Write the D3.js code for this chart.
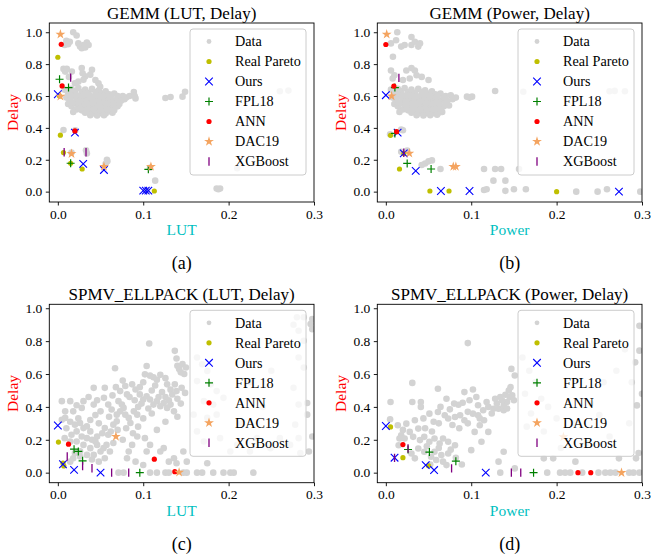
<!DOCTYPE html>
<html>
<head>
<meta charset="utf-8">
<script src="https://cdn.jsdelivr.net/npm/d3@7"></script>
<style>
html,body{margin:0;padding:0;background:#fff;}
svg{display:block;}
text{font-family:"Liberation Serif","Times New Roman",serif;}
</style>
</head>
<body>
<svg id="chart" width="651" height="560"></svg>
<script>
// ---------------- DATA ----------------
const seriesNames = ["Data","Real Pareto","Ours","FPL18","ANN","DAC19","XGBoost"];
const panelTitles = ["GEMM (LUT, Delay)","GEMM (Power, Delay)","SPMV_ELLPACK (LUT, Delay)","SPMV_ELLPACK (Power, Delay)"];
const panelXLabels = ["LUT","Power","LUT","Power"];
const panelYLabels = ["Delay","Delay","Delay","Delay"];
const panelCaptions = ["(a)","(b)","(c)","(d)"];
const xTicks = [0.0,0.1,0.2,0.3];
const yTicks = [0.0,0.2,0.4,0.6,0.8,1.0];

// (a) GEMM LUT vs Delay
const gemmLutData = [
 [0.018,1.0],[0.022,0.98],[0.010,0.947],[0.014,0.94],[0.008,0.92],[0.026,0.91],[0.030,0.92],[0.034,0.935],[0.028,0.90],[0.036,0.92],[0.032,0.905],[0.024,0.93],[0.012,0.925],
 [0.0066,0.77],[0.0105,0.77],[0.0086,0.753],[0.028,0.775],[0.029,0.743],[0.040,0.765],[0.038,0.734],[0.032,0.723],[0.030,0.702],[0.024,0.69],[0.020,0.68],[0.0476,0.68],[0.0496,0.658],[0.0164,0.753],[0.013,0.72],[0.044,0.70],
 [0.008,0.64],[0.012,0.62],[0.016,0.645],[0.020,0.63],[0.024,0.65],[0.028,0.625],[0.032,0.64],[0.036,0.62],[0.040,0.645],[0.044,0.625],[0.048,0.635],[0.052,0.615],[0.056,0.63],[0.060,0.61],[0.066,0.615],[0.070,0.60],[0.076,0.60],[0.080,0.59],
 [0.010,0.59],[0.014,0.575],[0.018,0.60],[0.022,0.58],[0.026,0.595],[0.030,0.57],[0.034,0.59],[0.038,0.575],[0.042,0.595],[0.046,0.57],[0.050,0.585],[0.054,0.565],[0.058,0.58],[0.062,0.565],[0.068,0.575],[0.074,0.57],[0.078,0.58],
 [0.012,0.55],[0.016,0.535],[0.020,0.555],[0.024,0.53],[0.028,0.55],[0.032,0.53],[0.036,0.545],[0.040,0.525],[0.044,0.545],[0.048,0.52],[0.052,0.54],[0.056,0.52],[0.060,0.54],[0.064,0.525],[0.070,0.535],
 [0.028,0.51],[0.032,0.495],[0.036,0.505],[0.040,0.49],[0.044,0.505],[0.048,0.49],[0.052,0.50],[0.056,0.49],[0.060,0.505],[0.064,0.495],[0.022,0.515],[0.018,0.50],
 [0.014,0.61],[0.022,0.605],[0.030,0.605],[0.038,0.60],[0.046,0.605],[0.054,0.60],[0.062,0.595],[0.017,0.56],[0.025,0.565],[0.033,0.555],[0.041,0.56],[0.049,0.555],[0.057,0.55],[0.065,0.55],[0.026,0.52],[0.034,0.515],[0.042,0.515],[0.050,0.51],[0.058,0.515],[0.066,0.51],[0.038,0.48],[0.046,0.478],[0.054,0.48],[0.072,0.55],[0.084,0.60],
 [0.089,0.625],[0.090,0.60],[0.091,0.585],
 [0.126,0.587],[0.132,0.594],[0.146,0.596],[0.149,0.627],[0.260,0.63],[0.270,0.634],
 [0.0066,0.387],[0.0205,0.385],[0.016,0.245],[0.033,0.26],[0.034,0.24],[0.0575,0.20],[0.058,0.19],[0.056,0.175],
 [0.108,0.15],[0.114,0.069],[0.186,0.02],[0.190,0.02],[0.188,0.015],[0.210,0.147],[0.104,0.005]
];
const gemmLutPareto = [[0.0,0.843],[0.002,0.60],[0.003,0.354],[0.0066,0.245],[0.015,0.178],[0.0285,0.142],[0.113,0.004]];
const gemmLutOurs = [[0.0,0.611],[0.020,0.37],[0.0297,0.174],[0.054,0.136],[0.100,0.006],[0.103,0.006],[0.106,0.006]];
const gemmLutFPL18 = [[0.002,0.705],[0.0125,0.653],[0.015,0.178],[0.106,0.14]];
const gemmLutANN = [[0.004,0.924],[0.005,0.663],[0.020,0.381]];
const gemmLutDAC19 = [[0.003,0.987],[0.003,0.598],[0.016,0.238],[0.054,0.157],[0.109,0.157]];
const gemmLutXGB = [[0.015,0.715],[0.0074,0.247],[0.033,0.247]];

// (b) GEMM Power vs Delay
const gemmPowerData = [
 [0.0134,1.0],[0.0083,0.846],[0.018,0.91],[0.022,0.92],[0.030,0.92],[0.034,0.94],[0.038,0.91],[0.040,0.93],[0.030,0.97],[0.006,0.93],[0.012,0.95],
 [0.006,0.76],[0.010,0.73],[0.024,0.76],[0.034,0.76],[0.036,0.73],[0.028,0.71],[0.042,0.72],[0.050,0.70],[0.020,0.70],[0.008,0.71],[0.030,0.775],
 [0.006,0.64],[0.010,0.62],[0.014,0.645],[0.018,0.63],[0.022,0.65],[0.026,0.625],[0.030,0.64],[0.034,0.62],[0.038,0.645],[0.042,0.625],[0.046,0.635],[0.050,0.615],[0.054,0.63],[0.058,0.61],[0.064,0.615],[0.070,0.60],[0.076,0.605],[0.082,0.59],
 [0.008,0.59],[0.012,0.575],[0.016,0.60],[0.020,0.58],[0.024,0.595],[0.028,0.57],[0.032,0.59],[0.036,0.575],[0.040,0.595],[0.044,0.57],[0.048,0.585],[0.052,0.565],[0.056,0.58],[0.060,0.565],[0.066,0.575],[0.072,0.57],[0.078,0.58],
 [0.010,0.55],[0.014,0.535],[0.018,0.555],[0.022,0.53],[0.026,0.55],[0.030,0.53],[0.034,0.545],[0.038,0.525],[0.042,0.545],[0.046,0.52],[0.050,0.54],[0.054,0.52],[0.058,0.54],[0.062,0.525],[0.068,0.535],[0.074,0.54],
 [0.026,0.51],[0.030,0.495],[0.034,0.505],[0.038,0.49],[0.042,0.505],[0.046,0.49],[0.050,0.50],[0.054,0.49],[0.058,0.505],[0.062,0.495],[0.020,0.515],[0.016,0.50],[0.066,0.50],
 [0.012,0.61],[0.020,0.605],[0.028,0.605],[0.036,0.60],[0.044,0.605],[0.052,0.60],[0.060,0.595],[0.068,0.59],[0.015,0.56],[0.023,0.565],[0.031,0.555],[0.039,0.56],[0.047,0.555],[0.055,0.55],[0.063,0.55],[0.071,0.56],[0.024,0.52],[0.032,0.515],[0.040,0.515],[0.048,0.51],[0.056,0.515],[0.064,0.51],[0.036,0.48],[0.044,0.478],[0.052,0.48],[0.060,0.482],
 [0.095,0.596],[0.101,0.596],[0.098,0.59],[0.128,0.631],[0.161,0.627],[0.262,0.63],[0.268,0.632],[0.280,0.63],
 [0.018,0.39],[0.020,0.385],[0.005,0.36],[0.018,0.25],[0.025,0.257],
 [0.046,0.177],[0.042,0.167],[0.050,0.19],[0.054,0.196],[0.064,0.142],
 [0.115,0.142],[0.128,0.142],[0.135,0.142],[0.156,0.142],[0.126,0.069],[0.140,0.069],
 [0.115,0.01],[0.118,0.015],[0.140,0.005],[0.150,0.015],[0.164,0.015],[0.223,0.0],[0.248,0.0],[0.259,0.015],[0.298,0.0]
];
const gemmPowerPareto = [[0.0055,0.353],[0.016,0.142],[0.021,0.24],[0.0516,0.004],[0.074,0.004],[0.200,0.0]];
const gemmPowerOurs = [[0.0,0.605],[0.0138,0.37],[0.021,0.24],[0.035,0.13],[0.0645,0.004],[0.098,0.004],[0.273,0.0]];
const gemmPowerFPL18 = [[0.0106,0.653],[0.0106,0.365],[0.025,0.177],[0.053,0.142]];
const gemmPowerANN = [[0.0,0.923],[0.0094,0.662],[0.0126,0.376]];
const gemmPowerDAC19 = [[0.001,0.987],[0.0067,0.60],[0.0275,0.24],[0.079,0.157],[0.082,0.157]];
const gemmPowerXGB = [[0.0153,0.714],[0.021,0.244]];

// (c) SPMV_ELLPACK LUT vs Delay
const spmvLutData = [
 [0.107,0.786],[0.137,0.741],[0.139,0.694],[0.140,0.65],[0.142,0.63],[0.146,0.66],[0.144,0.61],[0.148,0.60],[0.150,0.64],
 [0.067,0.635],[0.104,0.649],[0.102,0.598],[0.108,0.59],[0.112,0.58],[0.116,0.565],[0.120,0.595],[0.126,0.575],[0.128,0.537],[0.132,0.505],[0.134,0.475],[0.137,0.537],[0.139,0.496],[0.145,0.516],[0.149,0.485],
 [0.042,0.516],[0.055,0.516],[0.073,0.496],[0.079,0.527],[0.087,0.537],[0.091,0.506],[0.081,0.476],
 [0.096,0.476],[0.100,0.445],[0.104,0.465],[0.108,0.445],[0.112,0.414],[0.116,0.435],[0.120,0.404],[0.124,0.424],[0.128,0.394],[0.132,0.414],[0.136,0.373],[0.118,0.46],[0.098,0.42],[0.106,0.39],
 [0.071,0.435],[0.075,0.414],[0.077,0.394],[0.073,0.373],[0.069,0.353],[0.079,0.353],[0.083,0.333],[0.085,0.302],[0.089,0.373],[0.093,0.353],
 [0.054,0.455],[0.059,0.414],[0.063,0.384],[0.050,0.373],[0.042,0.414],[0.030,0.435],[0.028,0.394],[0.018,0.373],[0.0145,0.435],[0.0047,0.435],[0.0086,0.373],[0.0086,0.333],[0.0047,0.322],
 [0.0145,0.31],[0.020,0.292],[0.026,0.302],[0.030,0.271],[0.034,0.282],[0.038,0.251],[0.022,0.251],[0.016,0.231],[0.028,0.22],[0.034,0.21],[0.040,0.20],[0.046,0.22],[0.0145,0.19],[0.022,0.19],[0.030,0.169],[0.038,0.149],[0.046,0.169],[0.050,0.129],[0.0535,0.149],[0.042,0.108],[0.034,0.108],[0.026,0.098],[0.018,0.088],[0.0145,0.067],[0.048,0.067],[0.055,0.088],[0.061,0.129],[0.057,0.169],[0.065,0.18],[0.059,0.231],[0.055,0.271],[0.065,0.292],[0.069,0.312],
 [0.010,0.27],[0.024,0.33],[0.038,0.32],[0.044,0.35],[0.048,0.30],[0.052,0.24],[0.062,0.25],[0.026,0.13],[0.040,0.08],[0.044,0.19],[0.008,0.21],[0.020,0.12],[0.060,0.34],[0.046,0.44],[0.036,0.46],[0.022,0.41],
 [0.064,0.47],[0.068,0.52],[0.076,0.56],[0.084,0.46],[0.090,0.44],[0.094,0.40],[0.096,0.52],[0.100,0.55],[0.110,0.50],[0.114,0.53],[0.122,0.49],[0.126,0.46],[0.130,0.44],[0.140,0.45],[0.144,0.42],[0.110,0.36],[0.100,0.33],[0.094,0.28],[0.080,0.27],[0.088,0.24],[0.076,0.20],[0.070,0.26],[0.116,0.26],[0.126,0.31],[0.140,0.34],
 [0.083,0.129],[0.087,0.169],[0.093,0.22],[0.102,0.21],[0.108,0.169],[0.104,0.129],[0.120,0.129],[0.124,0.149],[0.130,0.067],[0.136,0.088],[0.139,0.057],[0.147,0.129],[0.151,0.067],[0.091,0.067],[0.081,0.088],[0.100,0.047],[0.175,0.057],
 [0.071,0.0],[0.077,0.0],[0.108,0.0],[0.116,0.0],[0.126,0.0],[0.130,0.0],[0.147,0.0],[0.151,0.0],[0.163,0.0],[0.169,0.0],[0.182,0.0],[0.194,0.0],[0.202,0.0],[0.206,0.0],[0.229,0.0],
 [0.294,0.129],[0.292,0.424],[0.296,0.904],[0.298,0.873],[0.288,0.945],[0.276,0.90],[0.298,0.934],[0.284,0.119],[0.298,0.22],
 [0.163,0.70],[0.169,0.659],[0.175,0.618],[0.163,0.557],[0.179,0.537],[0.186,0.496],[0.171,0.435],[0.182,0.414],[0.194,0.455],[0.159,0.353],[0.175,0.333],[0.186,0.353],[0.163,0.251],[0.171,0.19],[0.190,0.21],
 [0.280,0.945],[0.282,0.863],[0.288,0.802],[0.282,0.70],[0.288,0.639],[0.276,0.516],[0.282,0.414],[0.292,0.353],[0.278,0.292],[0.272,0.169],[0.282,0.21],[0.260,0.21],[0.249,0.149],[0.225,0.129],[0.210,0.169],[0.202,0.129],[0.233,0.21],[0.215,0.30],[0.240,0.40],[0.225,0.55],[0.250,0.62]
];
const spmvLutPareto = [[0.0007,0.186],[0.007,0.041],[0.006,0.058]];
const spmvLutOurs = [[0.0,0.287],[0.006,0.051],[0.019,0.017],[0.050,0.0]];
const spmvLutFPL18 = [[0.019,0.143],[0.024,0.129],[0.029,0.072],[0.096,0.0]];
const spmvLutANN = [[0.0125,0.173],[0.113,0.082],[0.137,0.006]];
const spmvLutDAC19 = [[0.068,0.22],[0.142,0.002]];
const spmvLutXGB = [[0.011,0.098],[0.029,0.04],[0.040,0.027],[0.063,0.0],[0.083,0.0]];

// (d) SPMV_ELLPACK Power vs Delay
const spmvPowerData = [
 [0.096,0.788],[0.031,0.546],[0.061,0.51],[0.0055,0.43],[0.005,0.325],[0.031,0.43],[0.041,0.43],[0.041,0.40],[0.071,0.45],[0.075,0.385],[0.085,0.413],[0.090,0.425],[0.092,0.49],[0.102,0.506],
 [0.051,0.359],[0.061,0.369],[0.069,0.349],[0.073,0.329],[0.081,0.339],[0.087,0.349],[0.092,0.319],[0.102,0.359],[0.108,0.349],[0.115,0.319],[0.126,0.389],[0.132,0.389],[0.138,0.409],[0.142,0.43],[0.145,0.46],[0.140,0.474],[0.147,0.631],[0.151,0.591],[0.146,0.52],[0.150,0.44],[0.136,0.44],[0.130,0.42],[0.120,0.40],
 [0.014,0.288],[0.024,0.298],[0.034,0.319],[0.038,0.268],[0.028,0.248],[0.018,0.228],[0.022,0.208],[0.032,0.218],[0.040,0.198],[0.045,0.218],[0.051,0.188],[0.057,0.208],[0.063,0.177],[0.067,0.208],[0.073,0.188],[0.081,0.167],[0.038,0.147],[0.045,0.127],[0.057,0.127],[0.065,0.107],[0.073,0.117],[0.034,0.087],[0.059,0.077],[0.067,0.067],[0.071,0.046],[0.089,0.05],[0.053,0.097],[0.016,0.208],[0.015,0.167],[0.030,0.117],
 [0.020,0.26],[0.046,0.27],[0.054,0.25],[0.062,0.30],[0.078,0.29],[0.086,0.27],[0.048,0.16],[0.062,0.15],[0.076,0.14],[0.044,0.33],[0.056,0.31],[0.096,0.30],[0.064,0.40],[0.080,0.42],[0.098,0.44],[0.108,0.41],[0.114,0.38],[0.124,0.36],[0.134,0.46],[0.138,0.38],[0.142,0.39],[0.148,0.47],[0.144,0.50],[0.128,0.45],[0.118,0.43],[0.106,0.46],[0.110,0.33],[0.096,0.37],[0.052,0.05],[0.082,0.09],
 [0.112,0.188],[0.138,0.127],[0.132,0.067],[0.151,0.026],[0.100,0.137],[0.104,0.248],[0.110,0.288],[0.120,0.248],
 [0.185,0.087],[0.196,0.087],[0.222,0.067],[0.273,0.087],[0.293,0.087],[0.294,0.409],[0.292,0.671],[0.288,0.55],[0.297,0.893],[0.297,0.742],[0.300,0.48],[0.296,0.119],
 [0.189,0.0],[0.204,0.0],[0.210,0.0],[0.216,0.0],[0.230,0.0],[0.249,0.0],[0.257,0.0],[0.263,0.0],[0.269,0.0],[0.285,0.0],[0.290,0.0],[0.297,0.0],[0.134,0.0],
 [0.160,0.70],[0.168,0.62],[0.175,0.55],[0.163,0.48],[0.182,0.45],[0.190,0.40],[0.170,0.36],[0.200,0.33],[0.165,0.28],[0.185,0.25],[0.220,0.30],[0.240,0.42],[0.255,0.55],[0.270,0.62],[0.280,0.75],[0.262,0.22],[0.235,0.18],[0.205,0.15],[0.285,0.30],[0.250,0.35]
];
const spmvPowerPareto = [[0.0055,0.278],[0.020,0.091],[0.050,0.042]];
const spmvPowerOurs = [[0.0,0.284],[0.0102,0.091],[0.0467,0.046],[0.0565,0.016],[0.117,0.0]];
const spmvPowerFPL18 = [[0.026,0.141],[0.051,0.125],[0.082,0.07],[0.173,0.0]];
const spmvPowerANN = [[0.020,0.171],[0.225,0.0],[0.240,0.0]];
const spmvPowerDAC19 = [[0.208,0.218],[0.276,0.0]];
const spmvPowerXGB = [[0.026,0.147],[0.0102,0.09],[0.077,0.026],[0.147,0.0],[0.158,0.0]];

// ---------------- DRAWING ----------------
const panelSeries = [
 [gemmLutData,gemmLutPareto,gemmLutOurs,gemmLutFPL18,gemmLutANN,gemmLutDAC19,gemmLutXGB],
 [gemmPowerData,gemmPowerPareto,gemmPowerOurs,gemmPowerFPL18,gemmPowerANN,gemmPowerDAC19,gemmPowerXGB],
 [spmvLutData,spmvLutPareto,spmvLutOurs,spmvLutFPL18,spmvLutANN,spmvLutDAC19,spmvLutXGB],
 [spmvPowerData,spmvPowerPareto,spmvPowerOurs,spmvPowerFPL18,spmvPowerANN,spmvPowerDAC19,spmvPowerXGB]
];
const geom = [
 {left:49.3, right:314, top:23, bottom:202, yDom:[-0.065,1.058]},
 {left:377.3, right:642, top:23, bottom:202, yDom:[-0.065,1.058]},
 {left:49.3, right:314, top:304.3, bottom:482.7, yDom:[-0.061,1.024]},
 {left:377.3, right:642, top:304.3, bottom:482.7, yDom:[-0.061,1.024]}
];
const styles = [
 {type:"circle", r:3.3, fill:"#d3d3d3", lr:2.4},
 {type:"circle", r:2.6, fill:"#bfbf00", lr:2.6},
 {type:"x", s:3.8, stroke:"#0000ff", w:1.1},
 {type:"plus", s:4.0, stroke:"#008000", w:1.2},
 {type:"circle", r:2.6, fill:"#ff0000", lr:2.6},
 {type:"star", R:5.2, fill:"#f4a460"},
 {type:"vline", s:4.2, stroke:"#800080", w:1.3}
];
function starPath(R){
  const r = R*0.382; let p = "";
  for(let i=0;i<10;i++){
    const a = -Math.PI/2 + i*Math.PI/5;
    const rr = i%2===0 ? R : r;
    p += (i===0?"M":"L") + (rr*Math.cos(a)).toFixed(2) + "," + (rr*Math.sin(a)).toFixed(2);
  }
  return p+"Z";
}
function drawMarker(g, st, x, y, legend){
  if(st.type==="circle"){
    g.append("circle").attr("cx",x).attr("cy",y).attr("r",legend?st.lr:st.r).attr("fill",st.fill);
  } else if(st.type==="x"){
    const s=st.s;
    g.append("path").attr("d",`M${x-s},${y-s}L${x+s},${y+s}M${x-s},${y+s}L${x+s},${y-s}`).attr("stroke",st.stroke).attr("stroke-width",st.w).attr("fill","none");
  } else if(st.type==="plus"){
    const s=st.s;
    g.append("path").attr("d",`M${x-s},${y}L${x+s},${y}M${x},${y-s}L${x},${y+s}`).attr("stroke",st.stroke).attr("stroke-width",st.w).attr("fill","none");
  } else if(st.type==="star"){
    g.append("path").attr("d",starPath(st.R)).attr("transform",`translate(${x},${y})`).attr("fill",st.fill);
  } else if(st.type==="vline"){
    const s=st.s;
    g.append("path").attr("d",`M${x},${y-s}L${x},${y+s}`).attr("stroke",st.stroke).attr("stroke-width",st.w);
  }
}

const svg = d3.select("#chart");
panelSeries.forEach((series, pi) => {
  const gm = geom[pi];
  const x = d3.scaleLinear().domain([-0.01,0.3]).range([gm.left, gm.right]);
  const y = d3.scaleLinear().domain(gm.yDom).range([gm.bottom, gm.top]);
  const g = svg.append("g");
  const cx = (gm.left+gm.right)/2;

  const clipId = "clip"+pi;
  svg.append("clipPath").attr("id",clipId).append("rect")
    .attr("x",gm.left).attr("y",gm.top).attr("width",gm.right-gm.left).attr("height",gm.bottom-gm.top);
  const pg = g.append("g").attr("clip-path",`url(#${clipId})`);
  series.forEach((pts, si) => {
    const sg = pg.append("g");
    pts.forEach(d => drawMarker(sg, styles[si], x(d[0]), y(d[1]), false));
  });

  const xAxis = d3.axisBottom(x).tickValues(xTicks).tickFormat(d3.format(".1f")).tickSize(3.5).tickPadding(3.5);
  const yAxis = d3.axisLeft(y).tickValues(yTicks).tickFormat(d3.format(".1f")).tickSize(3.5).tickPadding(3.5);
  const gx = g.append("g").attr("transform",`translate(0,${gm.bottom})`).call(xAxis);
  const gy = g.append("g").attr("transform",`translate(${gm.left},0)`).call(yAxis);
  [gx,gy].forEach(a=>{
    a.select(".domain").remove();
    a.selectAll("line").attr("stroke","#000").attr("stroke-width",0.9);
    a.selectAll("text").attr("font-family","Liberation Serif, Times New Roman, serif").attr("font-size",13.5).attr("fill","#000");
  });
  g.append("rect").attr("x",gm.left).attr("y",gm.top).attr("width",gm.right-gm.left).attr("height",gm.bottom-gm.top)
    .attr("fill","none").attr("stroke","#000").attr("stroke-width",0.9);

  const lw = 116, lh = 146;
  const lx = gm.right - 8 - lw, ly = gm.top + 6;
  const lg = g.append("g");
  lg.append("rect").attr("x",lx).attr("y",ly).attr("width",lw).attr("height",lh).attr("rx",3)
    .attr("fill","#fff").attr("fill-opacity",0.8).attr("stroke","#cccccc").attr("stroke-width",1);
  seriesNames.forEach((nm, si) => {
    const ry = ly + 12.5 + si*20;
    drawMarker(lg, styles[si], lx+19, ry, true);
    lg.append("text").attr("x",lx+45).attr("y",ry).attr("dy","0.35em")
      .attr("font-size",14.2).attr("fill","#000").text(nm);
  });

  g.append("text").attr("x",cx).attr("y",gm.top-4.5).attr("text-anchor","middle").attr("font-size",17).attr("fill","#000").text(panelTitles[pi]);
  g.append("text").attr("x",cx).attr("y",gm.bottom+33).attr("text-anchor","middle").attr("font-size",15.5).attr("fill","#00bfbf").text(panelXLabels[pi]);
  g.append("text").attr("transform",`translate(${gm.left-31},${(gm.top+gm.bottom)/2}) rotate(-90)`).attr("text-anchor","middle")
    .attr("font-size",15.5).attr("fill","#ff0000").text(panelYLabels[pi]);
  g.append("text").attr("x",cx).attr("y",gm.bottom+67).attr("text-anchor","middle").attr("font-size",18).attr("fill","#000").text(panelCaptions[pi]);
});
</script>
</body>
</html>
